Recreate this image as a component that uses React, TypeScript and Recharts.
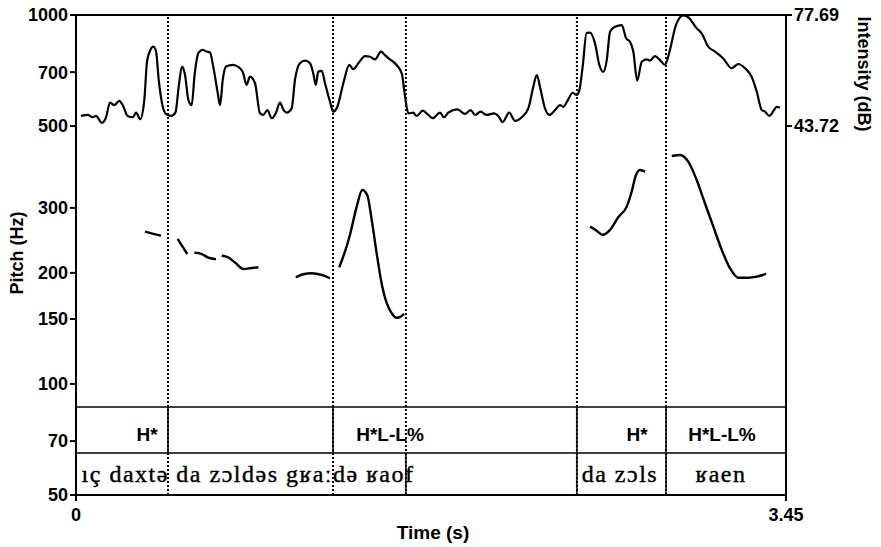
import { ComposedChart, Line, XAxis, YAxis, ReferenceLine, Scatter } from 'recharts'

// axis ticks
const timeTicks = [0, 3.45]
const pitchTicks = [50, 70, 100, 150, 200, 300, 500, 700, 1000]
const intensityTicks = [43.72, 77.69]

// intensity contour: [time (s), dB]
const intensity: [number, number][] = [
  [0.024, 46.8], [0.057, 47.1], [0.081, 46.4], [0.097, 46.8], [0.126, 44.7], [0.146, 46.4], [0.165, 50.9],
  [0.186, 50.1], [0.21, 51.4], [0.227, 50.1], [0.251, 46.8], [0.276, 46.4], [0.292, 47.8], [0.312, 45.8],
  [0.332, 51.7], [0.345, 63.4], [0.36, 66.8], [0.376, 68.0], [0.389, 66.5], [0.402, 57.8], [0.418, 50.7],
  [0.437, 47.4], [0.462, 46.8], [0.483, 47.8], [0.499, 55.7], [0.515, 61.9], [0.53, 59.3], [0.546, 51.7],
  [0.562, 50.1], [0.577, 59.8], [0.596, 66.2], [0.616, 67.0], [0.635, 66.5], [0.651, 66.2], [0.667, 61.9],
  [0.689, 53.7], [0.7, 50.1], [0.713, 57.8], [0.729, 61.9], [0.761, 62.4], [0.786, 61.9], [0.81, 60.3],
  [0.829, 56.3], [0.845, 58.8], [0.87, 56.8], [0.894, 47.6], [0.91, 47.1], [0.93, 48.6], [0.951, 46.1],
  [0.972, 47.8], [0.991, 50.9], [1.007, 48.8], [1.024, 47.8], [1.048, 49.1], [1.064, 57.8], [1.088, 62.9],
  [1.113, 63.7], [1.137, 62.9], [1.153, 59.8], [1.165, 56.3], [1.177, 60.3], [1.194, 60.6], [1.21, 56.8],
  [1.234, 51.2], [1.25, 48.1], [1.27, 49.6], [1.299, 56.8], [1.328, 62.4], [1.347, 61.1], [1.372, 62.9],
  [1.404, 65.1], [1.429, 64.9], [1.453, 64.1], [1.482, 66.5], [1.501, 65.4], [1.526, 64.1], [1.558, 62.4],
  [1.583, 59.8], [1.599, 52.7], [1.615, 47.6], [1.639, 47.8], [1.655, 46.8], [1.685, 48.4], [1.712, 47.1],
  [1.733, 46.1], [1.769, 47.8], [1.788, 46.4], [1.809, 47.8], [1.853, 48.8], [1.89, 47.4], [1.918, 48.6],
  [1.939, 47.1], [1.966, 48.1], [1.996, 47.1], [2.031, 47.6], [2.052, 46.8], [2.073, 44.9], [2.105, 47.8],
  [2.133, 45.3], [2.166, 46.4], [2.198, 49.1], [2.222, 55.7], [2.239, 59.3], [2.258, 54.7], [2.279, 49.1],
  [2.3, 47.1], [2.328, 48.6], [2.352, 50.1], [2.368, 49.6], [2.392, 51.9], [2.413, 53.9], [2.433, 53.2],
  [2.446, 54.7], [2.462, 61.9], [2.481, 72.2], [2.498, 72.3], [2.522, 69.0], [2.543, 62.4], [2.562, 60.3],
  [2.579, 63.9], [2.595, 72.6], [2.619, 74.1], [2.652, 74.6], [2.673, 70.6], [2.692, 69.5], [2.708, 66.5],
  [2.727, 57.6], [2.749, 63.4], [2.773, 64.1], [2.789, 63.7], [2.813, 65.1], [2.838, 63.9], [2.862, 62.4],
  [2.886, 67.0], [2.915, 74.6], [2.951, 77.6], [2.975, 77.0], [3.016, 73.6], [3.04, 72.1], [3.072, 68.0],
  [3.105, 66.5], [3.145, 64.4], [3.186, 61.4], [3.218, 62.7], [3.251, 61.4], [3.283, 58.8], [3.308, 54.2],
  [3.332, 48.6], [3.348, 48.1], [3.369, 46.8], [3.392, 48.6], [3.405, 49.6], [3.421, 49.4],
]

// pitch contour pieces: [time (s), Hz]
const pitchA: [number, number][] = [[0.335, 258.6], [0.376, 255.0], [0.413, 252.3]]
const pitchB: [number, number][] = [[0.494, 247.2], [0.518, 235.6], [0.541, 225.0]]
const pitchC: [number, number][] = [[0.575, 226.9], [0.611, 225.0], [0.643, 219.9], [0.68, 217.7]]
const pitchD: [number, number][] = [
  [0.708, 222.6], [0.74, 220.4], [0.777, 212.3], [0.813, 204.9], [0.845, 205.8], [0.886, 207.1],
]
const pitchE: [number, number][] = [[1.068, 194.6], [1.104, 198.3], [1.145, 199.5], [1.194, 197.4], [1.234, 193.4]]
const pitchF: [number, number][] = [
  [1.279, 207.1], [1.307, 228.3], [1.331, 253.4], [1.364, 302.4], [1.391, 335.6], [1.415, 325.3],
  [1.437, 278.2], [1.461, 226.0], [1.485, 187.5], [1.51, 165.5], [1.534, 155.5], [1.558, 151.2],
  [1.578, 152.2], [1.594, 154.8],
]
const pitchG: [number, number][] = [
  [2.498, 266.9], [2.53, 260.3], [2.559, 253.4], [2.595, 261.5], [2.635, 283.0], [2.676, 302.4],
  [2.7, 331.9], [2.721, 368.5], [2.741, 380.2], [2.765, 376.2],
]
const pitchH: [number, number][] = [
  [2.895, 414.9], [2.935, 417.5], [2.975, 400.4], [3.016, 357.1], [3.056, 308.9], [3.097, 266.9],
  [3.138, 230.7], [3.178, 205.8], [3.218, 194.1], [3.267, 194.1], [3.308, 195.3], [3.353, 198.7],
]
const pitchPieces = [pitchA, pitchB, pitchC, pitchD, pitchE, pitchF, pitchG, pitchH]

// textgrid
const boundaries = [0.447, 1.249, 1.603, 2.434, 2.867]
const toneBounds = [0.447, 1.249, 2.434, 2.867]
const wordBounds = [1.603, 2.434, 2.867]
const tierTop = 86.6
const tierMid = 65
const toneLabels = [
  { t: 0.345, hz: 72.8, text: 'H*' },
  { t: 1.526, hz: 72.8, text: 'H*L-L%' },
  { t: 2.726, hz: 72.8, text: 'H*' },
  { t: 3.139, hz: 72.8, text: 'H*L-L%' },
]
const wordLabels = [
  { t: 0.836, hz: 57.0, text: 'ıç daxtə da zɔldəs gʁaːdə ʁaof' },
  { t: 2.643, hz: 57.0, text: 'da zɔls' },
  { t: 3.134, hz: 57.0, text: 'ʁaen' },
]

const sans = '"Liberation Sans", Arial, sans-serif'
const serif = '"Liberation Serif", "Times New Roman", serif'

const toneShape = (p: any) => (
  <text x={p.cx} y={p.cy} textAnchor="middle" dominantBaseline="central"
    fontFamily={sans} fontWeight="bold" fontSize={19} fill="#000">{p.payload.text}</text>
)
const wordShape = (p: any) => (
  <text x={p.cx} y={p.cy} textAnchor="middle" dominantBaseline="central"
    fontFamily={serif} fontSize={24} letterSpacing={1.5} fill="#000" stroke="#000" strokeWidth={0.4}>
    {p.payload.text}
  </text>
)

export default function App() {
  const tick = { fontSize: 18, fontWeight: 'bold', fill: '#000', fontFamily: sans }
  return (
    <div style={{ width: 865, height: 539 }}>
      <ComposedChart width={865} height={539} margin={{ top: 7, right: 0, bottom: 8, left: 0 }}
        style={{ overflow: 'visible' }}>
        <XAxis
          type="number"
          dataKey="t"
          domain={[0, 3.45]}
          ticks={timeTicks}
          allowDataOverflow
          height={44}
          tickFormatter={(v) => String(v)}
          tick={tick}
          tickMargin={7}
          axisLine={{ stroke: '#000', strokeWidth: 2 }}
          tickLine={{ stroke: '#000', strokeWidth: 2 }}
          label={(p: any) => (
            <text x={p.viewBox.x + p.viewBox.width / 2 + 2} y={p.viewBox.y + 44} textAnchor="middle"
              fontFamily={sans} fontWeight="bold" fontSize={19} fill="#000">Time (s)</text>
          )}
        />
        <YAxis
          yAxisId="hz"
          type="number"
          scale="log"
          domain={[50, 1000]}
          allowDataOverflow
          ticks={pitchTicks}
          width={68}
          interval={0}
          tick={tick}
          axisLine={{ stroke: '#000', strokeWidth: 2 }}
          tickLine={{ stroke: '#000', strokeWidth: 2 }}
          label={(p: any) => (
            <text x={p.viewBox.x + 15} y={p.viewBox.y + p.viewBox.height / 2 - 2} textAnchor="middle"
              fontFamily={sans} fontWeight="bold" fontSize={18} fill="#000"
              transform={`rotate(-90 ${p.viewBox.x + 15} ${p.viewBox.y + p.viewBox.height / 2 - 2})`}>
              Pitch (Hz)
            </text>
          )}
        />
        <YAxis
          yAxisId="db"
          orientation="right"
          type="number"
          domain={[-69.21, 77.69]}
          allowDataOverflow
          ticks={intensityTicks}
          interval={0}
          width={87}
          tick={tick}
          axisLine={{ stroke: '#000', strokeWidth: 2 }}
          tickLine={{ stroke: '#000', strokeWidth: 2 }}
          label={(p: any) => (
            <text x={p.viewBox.x + 72} y={66} textAnchor="middle"
              fontFamily={sans} fontWeight="bold" fontSize={18} fill="#000"
              transform={`rotate(90 ${p.viewBox.x + 72} 66)`}>
              Intensity (dB)
            </text>
          )}
        />
        <ReferenceLine yAxisId="hz" y={1000} stroke="#000" strokeWidth={2} ifOverflow="visible" />
        <ReferenceLine yAxisId="hz" y={tierTop} stroke="#000" strokeWidth={1.5} />
        <ReferenceLine yAxisId="hz" y={tierMid} stroke="#000" strokeWidth={1.5} />
        {boundaries.map((b) => (
          <ReferenceLine key={'d' + b} yAxisId="hz" x={b} stroke="#000" strokeWidth={2} strokeDasharray="2 2" />
        ))}
        {toneBounds.map((b) => (
          <ReferenceLine key={'t' + b} yAxisId="hz" segment={[{ x: b, y: tierTop }, { x: b, y: tierMid }]}
            stroke="#000" strokeWidth={1.5} />
        ))}
        {wordBounds.map((b) => (
          <ReferenceLine key={'w' + b} yAxisId="hz" segment={[{ x: b, y: tierMid }, { x: b, y: 50 }]}
            stroke="#000" strokeWidth={1.5} />
        ))}
        <Line
          yAxisId="db"
          data={intensity.map(([t, db]) => ({ t, db }))}
          dataKey="db"
          type="monotone"
          stroke="#000"
          strokeWidth={2.2}
          dot={false}
          isAnimationActive={false}
        />
        {pitchPieces.map((seg, i) => (
          <Line
            key={'p' + i}
            yAxisId="hz"
            data={seg.map(([t, hz]) => ({ t, hz }))}
            dataKey="hz"
            type="monotone"
            stroke="#000"
            strokeWidth={2.4}
            dot={false}
            isAnimationActive={false}
          />
        ))}
        <Scatter yAxisId="hz" data={toneLabels} dataKey="hz" shape={toneShape} isAnimationActive={false} />
        <Scatter yAxisId="hz" data={wordLabels} dataKey="hz" shape={wordShape} isAnimationActive={false} />
      </ComposedChart>
    </div>
  )
}
